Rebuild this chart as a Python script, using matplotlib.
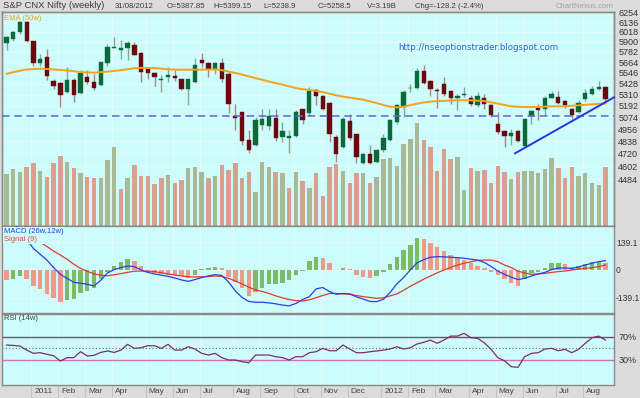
import numpy as np
import pandas as pd
import matplotlib
matplotlib.use("Agg")
import matplotlib.pyplot as plt
from matplotlib.ticker import NullLocator

plt.rcParams['font.family'] = ['Liberation Sans', 'DejaVu Sans']

# weekly bars, 17 Dec 2010 .. 31 Aug 2012
dates = pd.date_range('2010-12-17', periods=90, freq='W-FRI')

opens = [5883, 5935, 6014, 6135, 5906, 5650, 5722, 5454, 5432, 5336,
         5462, 5330, 5495, 5440, 5408, 5650, 5830, 5804, 5829, 5867,
         5767, 5583, 5546, 5462, 5498, 5509, 5473, 5374, 5443, 5684,
         5653, 5591, 5650, 5536, 5084, 5128, 4847, 4799, 4994, 4984,
         5067, 4873, 4869, 4886, 5155, 5118, 5355, 5291, 5221, 4879,
         4777, 5037, 4906, 4634, 4714, 4643, 4752, 4847, 5027, 5179,
         5376, 5384, 5560, 5451, 5352, 5418, 5343, 5277, 5301, 5277,
         5197, 5277, 5197, 5010, 4935, 4889, 4935, 4789, 5084, 5173,
         5158, 5277, 5284, 5242, 5158, 5128, 5260, 5312, 5366, 5387.85]
highs = [5974, 6026, 6147, 6147, 5915, 5760, 5810, 5481, 5443, 5605,
         5484, 5572, 5572, 5536, 5664, 5876, 5954, 5926, 5915, 5895,
         5779, 5608, 5553, 5517, 5608, 5572, 5481, 5481, 5710, 5764,
         5664, 5664, 5710, 5553, 5207, 5128, 4945, 5077, 5163, 5163,
         5163, 5027, 4945, 5145, 5163, 5390, 5374, 5301, 5231, 4896,
         5077, 5112, 4912, 4721, 4799, 4758, 4912, 5061, 5214, 5355,
         5426, 5601, 5637, 5470, 5384, 5498, 5363, 5319, 5390, 5301,
         5336, 5319, 5207, 5128, 4945, 4961, 4945, 5071, 5152, 5207,
         5291, 5347, 5347, 5256, 5173, 5249, 5374, 5397, 5451, 5399.15]
lows = [5809, 5915, 5995, 5895, 5627, 5616, 5462, 5374, 5176, 5322,
        5231, 5319, 5418, 5355, 5397, 5627, 5825, 5696, 5684, 5741,
        5443, 5481, 5397, 5336, 5443, 5454, 5355, 5197, 5432, 5608,
        5498, 5528, 5443, 5115, 4945, 4799, 4721, 4789, 4945, 4945,
        4840, 4831, 4727, 4879, 5010, 5084, 5197, 5145, 4831, 4643,
        4768, 4847, 4634, 4618, 4618, 4634, 4736, 4840, 5010, 5077,
        5336, 5374, 5418, 5291, 5173, 5291, 5214, 5145, 5284, 5186,
        5179, 5163, 5077, 4906, 4783, 4799, 4831, 4777, 5010, 5044,
        5084, 5270, 5214, 5173, 5061, 5118, 5242, 5301, 5355, 5238.9]
closes = [5954, 6014, 6135, 5906, 5653, 5695, 5509, 5397, 5309, 5462,
          5301, 5542, 5443, 5376, 5661, 5837, 5840, 5822, 5891, 5752,
          5553, 5542, 5495, 5481, 5525, 5487, 5366, 5481, 5634, 5657,
          5591, 5650, 5481, 5207, 5071, 4840, 4752, 5044, 5061, 5084,
          4864, 4938, 4886, 5128, 5051, 5347, 5291, 5163, 4912, 4714,
          5061, 4864, 4689, 4714, 4634, 4752, 4864, 5044, 5197, 5336,
          5384, 5564, 5432, 5366, 5347, 5319, 5277, 5291, 5319, 5214,
          5291, 5214, 5094, 4928, 4886, 4918, 4840, 5061, 5138, 5145,
          5277, 5319, 5221, 5197, 5102, 5221, 5326, 5366, 5390, 5258.5]
# volume in billions
volume = [2.83, 3.08, 2.93, 3.22, 3.44, 2.97, 2.68, 3.44, 3.82, 3.49,
          3.17, 2.86, 2.68, 2.59, 2.59, 3.59, 4.28, 2.01, 2.62, 3.32,
          2.73, 2.73, 2.28, 2.62, 2.77, 2.32, 2.50, 3.17, 3.22, 2.95,
          2.59, 2.72, 3.32, 3.04, 3.44, 2.59, 2.95, 1.86, 3.49, 3.19,
          2.95, 2.86, 2.05, 2.93, 2.45, 2.05, 2.86, 1.63, 3.22, 3.37,
          3.00, 2.32, 2.86, 2.90, 2.32, 2.68, 3.62, 3.68, 3.28, 4.46,
          4.73, 5.58, 4.67, 4.31, 3.00, 4.18, 3.64, 3.77, 1.96, 3.13,
          3.00, 3.04, 2.32, 3.26, 2.92, 2.55, 2.95, 2.99, 2.99, 2.86,
          3.08, 3.68, 3.13, 2.59, 3.22, 2.72, 2.90, 2.32, 2.23, 3.19]
ema50 = [5534, 5552, 5568, 5583, 5587, 5591, 5587, 5583, 5577, 5572,
         5563, 5553, 5550, 5547, 5553, 5558, 5566, 5575, 5585, 5596,
         5601, 5599, 5598, 5592, 5585, 5580, 5580, 5580, 5580, 5581,
         5582, 5583, 5574, 5559, 5543, 5526, 5506, 5487, 5468, 5450,
         5432, 5416, 5397, 5378, 5367, 5360, 5348, 5336, 5319, 5301,
         5288, 5277, 5266, 5256, 5238, 5220, 5200, 5182, 5175, 5182,
         5198, 5214, 5226, 5235, 5240, 5243, 5246, 5249, 5249, 5249,
         5245, 5241, 5228, 5214, 5200, 5186, 5182, 5179, 5179, 5179,
         5183, 5186, 5186, 5186, 5192, 5197, 5202, 5207, 5212, 5214]
macd = [280, 240, 195, 155, 108, 79, 50, 12, -22, -42,
        -62, -66, -72, -80, -52, -15, 2, 12, 20, 17,
        0, -12, -20, -26, -32, -40, -50, -57, -48, -38,
        -30, -23, -28, -60, -105, -138, -158, -162, -162, -165,
        -170, -176, -180, -168, -148, -134, -95, -88, -108, -122,
        -118, -120, -135, -146, -158, -159, -147, -113, -70, -38,
        0, 36, 52, 64, 67, 66, 64, 62, 59, 54,
        50, 38, 18, -5, -22, -36, -48, -42, -30, -20,
        -12, 2, 10, 10, 8, 15, 25, 34, 42, 47]
signal = [330, 290, 250, 210, 165, 140, 118, 95, 75, 54,
          29, 8, -6, -20, -26, -29, -24, -18, -12, -6,
          -5, -6, -8, -14, -20, -25, -30, -34, -35, -34,
          -33, -30, -33, -42, -55, -70, -86, -100, -108, -118,
          -130, -140, -148, -154, -156, -150, -139, -128, -118, -118,
          -120, -122, -128, -134, -138, -142, -140, -130, -120, -102,
          -82, -64, -46, -30, -14, 0, 13, 25, 34, 41,
          48, 50, 50, 42, 25, 12, -6, -15, -22, -20,
          -17, -12, -8, -5, 0, 4, 8, 12, 17, 25]
macd_hist = [-50, -45, -28, -45, -80, -95, -122, -139, -159, -151,
             -146, -117, -105, -92, -45, -8, 22, 38, 55, 47,
             22, -8, -17, -22, -23, -25, -28, -38, -25, 5,
             8, 17, 8, -33, -59, -92, -130, -109, -92, -72,
             -72, -67, -50, -25, -3, 45, 64, 60, 37, 0,
             12, 3, -25, -34, -42, -29, -8, 28, 67, 100,
             125, 159, 155, 134, 117, 95, 75, 64, 50, 33,
             22, 12, -8, -25, -47, -64, -80, -47, -17, -8,
             8, 33, 33, 28, 17, 20, 28, 38, 42, 37]
rsi = [55.7, 55.0, 53.9, 47.0, 41.4, 42.5, 39.7, 37.3, 28.2, 34.0,
       34.0, 44.2, 36.8, 38.0, 43.0, 45.4, 43.0, 47.0, 56.8, 50.0,
       51.0, 54.5, 54.5, 50.0, 56.8, 47.0, 47.0, 52.8, 48.8, 41.4,
       38.5, 41.4, 34.0, 30.0, 30.0, 27.0, 25.3, 38.5, 38.5, 38.5,
       35.6, 34.0, 30.0, 35.6, 35.6, 42.5, 44.2, 50.0, 45.9, 45.9,
       55.7, 48.8, 42.5, 42.5, 44.2, 45.4, 47.0, 48.8, 52.8, 48.8,
       51.0, 57.4, 60.3, 64.2, 58.6, 64.2, 71.0, 71.0, 75.7, 68.2,
       67.2, 59.6, 48.3, 34.0, 28.7, 18.4, 17.4, 35.6, 41.4, 42.5,
       48.8, 50.0, 45.9, 48.3, 42.5, 48.3, 58.6, 68.2, 71.0, 64.2]

price_ticks = [4484, 4602, 4720, 4838, 4956, 5074, 5192, 5310,
               5428, 5546, 5664, 5782, 5900, 6018, 6136, 6254]
support_level = 5090
trend_bar = [75.56, 90.27]
trend_price = [4721, 5280]

W, H = 640, 398
BG = '#ccfcfc'
GRID = '#e4fbfb'
n = len(dates)
x = np.arange(n)
XL = (-0.67, 90.27)


def box(left, top, right, bottom):
    return [left / W, 1 - bottom / H, (right - left) / W, (bottom - top) / H]


first = [i for i in range(1, n) if dates[i].month != dates[i - 1].month]
tick_pos = [i + 0.7 for i in first]
tick_lab = [str(dates[i].year) if dates[i].month == 1 else dates[i].strftime('%b') for i in first]

fig = plt.figure(figsize=(W / 100, H / 100), dpi=100, facecolor='#dcdcdc')

ax_v = fig.add_axes(box(2, 12, 614, 226), facecolor=BG)
ax = fig.add_axes(box(2, 12, 614, 226))
ax.patch.set_visible(False)
ax_m = fig.add_axes(box(2, 226, 614, 313), facecolor=BG)
ax_r = fig.add_axes(box(2, 314, 614, 385), facecolor=BG)
for a in (ax_v, ax, ax_m, ax_r):
    a.set_xlim(*XL)
    a.set_xticks([])
    for s in a.spines.values():
        s.set_color('#8a8a8a')
        s.set_linewidth(1)
for a in (ax_v, ax_m, ax_r):
    for t in tick_pos:
        a.axvline(t, color=GRID, lw=1.0, zorder=0)

# ---- price panel
ax.set_yscale('log')
ax.set_ylim(4083, 6262)
for p in price_ticks:
    ax_v.plot([0, 1], [p, p], transform=ax.get_yaxis_transform(), color=GRID, lw=1.0, zorder=0)

up_vol = [True] + [closes[i] >= closes[i - 1] for i in range(1, n)]
ax_v.bar(x, volume, width=0.66, color=['#a9b995' if u else '#d8a08e' for u in up_vol], zorder=1)
ax_v.set_ylim(0, 11.63)
ax_v.set_yticks([])

o = np.array(opens)
c = np.array(closes)
up = c >= o
lo = np.minimum(o, c)
hi = np.maximum(o, c)
ax.vlines(x, lows, highs, colors=['#86a89a' if u else '#a08a8a' for u in up], lw=1, zorder=2)
body_col = ['#0b6a3a' if u else '#6a0a0c' for u in up]
ax.bar(x, np.maximum(hi - lo, lo * 0.0015), bottom=lo, width=0.64,
       color=body_col, edgecolor=body_col, lw=0.3, zorder=3)
ax.plot(x, ema50, color='#f4a21c', lw=1.4, zorder=4)
ax.axhline(support_level, color='#5866dc', lw=1.1, ls=(0, (5, 3)), zorder=4)
ax.plot(trend_bar, trend_price, color='#2438d8', lw=1.4, zorder=5, clip_on=False)

ax.yaxis.tick_right()
ax.set_yticks(price_ticks)
ax.set_yticklabels([str(p) for p in price_ticks])
ax.yaxis.set_minor_locator(NullLocator())
ax.tick_params(axis='y', length=0, pad=3, labelsize=6.5, labelcolor='#333333')

ax.text(0.004, 0.97, 'EMA (50w)', transform=ax.transAxes, color='#f0a020',
        fontsize=5.5, va='center', ha='left')
fig.text(478 / W, 1 - 47 / H, 'http://nseoptionstrader.blogspot.com', color='#3a5fd0',
         fontsize=6.2, family='DejaVu Sans', ha='center', va='center')

# ---- MACD panel
hist_up = [False] + [macd_hist[i] >= macd_hist[i - 1] for i in range(1, n)]
ax_m.bar(x, macd_hist, width=0.66, color=['#7dbb68' if u else '#ee9a88' for u in hist_up], zorder=2)
ax_m.plot(x, signal, color='#e03a2a', lw=0.9, zorder=3)
ax_m.plot(x, macd, color='#2d3fe0', lw=0.9, zorder=3)
ax_m.set_ylim(-216, 221)
ax_m.yaxis.tick_right()
ax_m.set_yticks([139.1, 0, -139.1])
ax_m.set_yticklabels(['139.1', '0', '-139.1'])
ax_m.tick_params(axis='y', length=0, pad=1.5, labelsize=6.2, labelcolor='#333333')
for v in (139.1, 0, -139.1):
    ax_m.axhline(v, color=GRID, lw=0.8, zorder=0)
ax_m.text(0.004, 0.94, 'MACD (26w,12w)', transform=ax_m.transAxes, color='#2d3fe0',
          fontsize=5.5, va='center', zorder=6,
          bbox=dict(boxstyle='square,pad=0.15', fc=BG, ec='none'))
ax_m.text(0.004, 0.85, 'Signal (9)    ', transform=ax_m.transAxes, color='#e04a3a',
          fontsize=5.5, va='center', zorder=6,
          bbox=dict(boxstyle='square,pad=0.15', fc=BG, ec='none'))

# ---- RSI panel
ax_r.axhline(70, color='#7a4a6e', lw=1, zorder=1)
ax_r.axhline(30, color='#d070b8', lw=1, zorder=1)
ax_r.axhline(50, color='#666666', lw=0.8, ls=(0, (1, 2)), zorder=1)
ax_r.plot(x, rsi, color='#7b2f62', lw=0.9, zorder=3)
ax_r.set_ylim(-13, 109)
ax_r.yaxis.tick_right()
ax_r.set_yticks([70, 30])
ax_r.set_yticklabels(['70%', '30%'])
ax_r.tick_params(axis='y', length=0, pad=3, labelsize=6.5, labelcolor='#333333')
ax_r.text(0.004, 0.93, 'RSI (14w)', transform=ax_r.transAxes, color='#444444',
          fontsize=5.5, va='center')

# month labels under the last panel
tr = ax_r.get_xaxis_transform()
for t, lab in zip(tick_pos, tick_lab):
    ax_r.plot([t, t], [0, -0.18], transform=tr, color='#c4c4c4', lw=0.8, clip_on=False)
    ax_r.text(t + 0.45, -0.085, lab, transform=tr, fontsize=6, color='#444444',
              ha='left', va='center')

# ---- header
head = [(3, 'S&P CNX Nifty (weekly)', 6.8), (115, '31/08/2012', 5.6), (167, 'O=5387.85', 5.6),
        (213, 'H=5399.15', 5.6), (263, 'L=5238.9', 5.6), (318, 'C=5258.5', 5.6),
        (367, 'V=3.19B', 5.6), (415, 'Chg=-128.2 (-2.4%)', 5.6)]
for px, txt, fs in head:
    fig.text(px / W, 1 - 6 / H, txt, fontsize=fs, color='#3c3c3c', ha='left', va='center')
fig.text(614 / W, 1 - 6 / H, 'ChartNexus.com', fontsize=5.6, color='#a4a4a4', ha='right', va='center')

fig.savefig('out.png', dpi=100, facecolor=fig.get_facecolor())
